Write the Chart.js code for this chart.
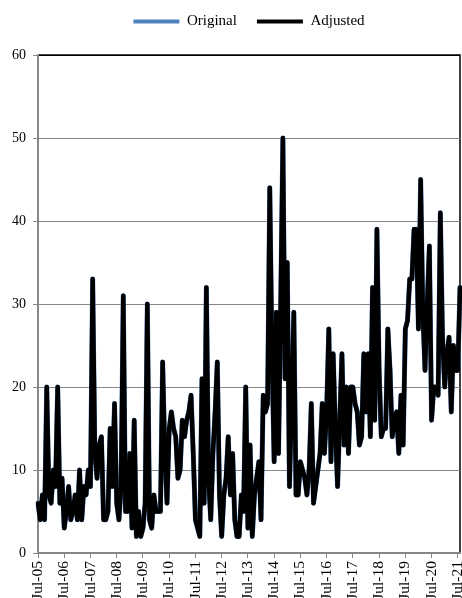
<!DOCTYPE html>
<html>
<head>
<meta charset="utf-8">
<script src="https://cdn.jsdelivr.net/npm/chart.js@4.4.1/dist/chart.umd.min.js"></script>
<style>
  html, body { margin: 0; padding: 0; background: #fff; overflow: hidden; }
  #wrap { width: 462px; height: 598px; overflow: hidden; }
</style>
</head>
<body>
<div id="wrap"><canvas id="chart" width="462" height="612" style="width:462px;height:612px"></canvas></div>
<script>
// Monthly series, Jul-05 .. Aug-21. Only the July labels are shown on the axis.
const MONTHS = ["Jan", "Feb", "Mar", "Apr", "May", "Jun", "Jul", "Aug", "Sep", "Oct", "Nov", "Dec"]
const FIRST_MONTH = 6 // July
const FIRST_YEAR = 5 // 2005

const adjustedValues = [
  6, 4, 7, 4, 20, 7, 6, 10, 8, 20, 6, 9,
  3, 5, 8, 4, 5, 7, 4, 10, 4, 8, 7, 10,
  8, 33, 12, 9, 13, 14, 4, 4, 5, 15, 8, 18,
  6, 4, 8, 31, 5, 5, 12, 3, 16, 2, 5, 2,
  3, 6, 30, 4, 3, 7, 5, 5, 5, 23, 12, 6,
  15, 17, 15, 14, 9, 10, 16, 14, 16, 17, 19, 12,
  4, 3, 2, 21, 6, 32, 9, 4, 12, 17, 23, 7,
  2, 7, 9, 14, 7, 12, 4, 2, 2, 7, 5, 20,
  3, 13, 2, 7, 9, 11, 4, 19, 17, 18, 44, 24,
  11, 29, 12, 30, 50, 21, 35, 8, 18, 29, 7, 7,
  11, 10, 9, 7, 10, 18, 6, 8, 10, 12, 18, 12,
  17, 27, 11, 24, 15, 8, 16, 24, 13, 20, 12, 20,
  20, 18, 17, 13, 14, 24, 17, 24, 14, 32, 16, 39,
  22, 14, 15, 15, 27, 22, 14, 16, 17, 12, 19, 13,
  27, 28, 33, 33, 39, 39, 27, 45, 29, 22, 30, 37,
  16, 20, 20, 19, 41, 26, 20, 24, 26, 17, 25, 22,
  22, 32
]

// The original series sits underneath and is hidden by the adjusted one.
const originalValues = [
  6, 4, 7, 4, 20, 7, 6, 10, 8, 20, 6, 9,
  3, 5, 8, 4, 5, 7, 4, 10, 4, 8, 7, 10,
  8, 33, 12, 9, 13, 14, 4, 4, 5, 15, 8, 18,
  6, 4, 8, 31, 5, 5, 12, 3, 16, 2, 5, 2,
  3, 6, 30, 4, 3, 7, 5, 5, 5, 23, 12, 6,
  15, 17, 15, 14, 9, 10, 16, 14, 16, 17, 19, 12,
  4, 3, 2, 21, 6, 32, 9, 4, 12, 17, 23, 7,
  2, 7, 9, 14, 7, 12, 4, 2, 2, 7, 5, 20,
  3, 13, 2, 7, 9, 11, 4, 19, 17, 18, 44, 24,
  11, 29, 12, 30, 50, 21, 35, 8, 18, 29, 7, 7,
  11, 10, 9, 7, 10, 18, 6, 8, 10, 12, 18, 12,
  17, 27, 11, 24, 15, 8, 16, 24, 13, 20, 12, 20,
  20, 18, 17, 13, 14, 24, 17, 24, 14, 32, 16, 39,
  22, 14, 15, 15, 27, 22, 14, 16, 17, 12, 19, 13,
  27, 28, 33, 33, 39, 39, 27, 45, 29, 22, 30, 37,
  16, 20, 20, 19, 41, 26, 20, 24, 26, 17, 25, 22,
  22, 32
]

const monthLabels = adjustedValues.map((_, i) => {
  const m = FIRST_MONTH + i
  const yy = FIRST_YEAR + Math.floor(m / 12)
  return MONTHS[m % 12] + "-" + String(yy).padStart(2, "0")
})

const BLUE = "#4F81BD"
const GRID_COLOR = "#878787"
const SERIF = "'Liberation Serif', 'Times New Roman', serif"
const Y_TICK_FONT = { family: SERIF, size: 14 }
const X_TICK_FONT = { family: SERIF, size: 15.5 }
const LEGEND_FONT = { family: SERIF, size: 15 }

// Fixed plot box so the chart lands where the reference has it.
const CANVAS_H = 612
const PLOT_TOP = 55
const PLOT_BOTTOM = 553
const Y_AXIS_W = 38
const TOP_PAD = -6

// Legend takes all the room above the plot.
const legendSpacer = {
  id: "legendSpacer",
  afterInit(chart) {
    const legend = chart.legend
    const fit = legend.fit
    legend.fit = function () {
      fit.call(this)
      this.height = PLOT_TOP - TOP_PAD
    }
  }
}

// Dark frame round the plot area (axes redraw grey over left/bottom).
const plotFrame = {
  id: "plotFrame",
  beforeDraw(chart) {
    const { ctx, chartArea: a } = chart
    ctx.save()
    ctx.strokeStyle = "#000"
    ctx.lineWidth = 1.5
    ctx.strokeRect(a.left, a.top, a.right - a.left, a.bottom - a.top)
    ctx.restore()
  }
}

new Chart(document.getElementById("chart").getContext("2d"), {
  type: "line",
  plugins: [legendSpacer, plotFrame],
  data: {
    labels: monthLabels,
    datasets: [
      {
        label: "Original",
        data: originalValues,
        borderColor: BLUE,
        backgroundColor: BLUE,
        borderWidth: 5,
        order: 1
      },
      {
        label: "Adjusted",
        data: adjustedValues,
        borderColor: "#000",
        backgroundColor: "#000",
        borderWidth: 4.5,
        order: 0
      }
    ]
  },
  options: {
    responsive: false,
    animation: false,
    layout: { padding: { left: 0, right: 2, top: TOP_PAD, bottom: 0 } },
    elements: {
      point: { radius: 0 },
      line: { tension: 0, borderJoinStyle: "round", borderCapStyle: "round" }
    },
    plugins: {
      tooltip: { enabled: false },
      legend: {
        position: "top",
        fullSize: false,
        labels: {
          font: LEGEND_FONT,
          color: "#000",
          boxWidth: 46,
          boxHeight: 4,
          padding: 20,
          sort: (a, b) => a.datasetIndex - b.datasetIndex,
          generateLabels: (chart) =>
            Chart.defaults.plugins.legend.labels.generateLabels(chart).map((l) => ({ ...l, lineWidth: 0 }))
        }
      }
    },
    scales: {
      x: {
        type: "category",
        offset: false,
        grid: { drawOnChartArea: false, drawTicks: true, tickLength: 5, tickColor: GRID_COLOR },
        border: { color: GRID_COLOR, width: 2 },
        ticks: { autoSkip: false, minRotation: 90, maxRotation: 90, padding: 3, font: X_TICK_FONT, color: "#000" },
        afterBuildTicks: (axis) => {
          axis.ticks = axis.ticks.filter((t) => t.value % 12 === 0)
        },
        afterFit: (axis) => {
          axis.height = CANVAS_H - PLOT_BOTTOM
          axis.paddingLeft = 0
          axis.paddingRight = 0
        }
      },
      y: {
        min: 0,
        max: 60,
        ticks: { stepSize: 10, padding: 7, font: Y_TICK_FONT, color: "#000" },
        grid: {
          color: (c) => (c.tick && c.tick.value === 60 ? "#000" : GRID_COLOR),
          tickColor: GRID_COLOR,
          tickLength: 5
        },
        border: { color: GRID_COLOR, width: 2 },
        afterFit: (axis) => {
          axis.width = Y_AXIS_W
          axis.paddingTop = 0
          axis.paddingBottom = 0
        }
      }
    }
  }
})
</script>
</body>
</html>
